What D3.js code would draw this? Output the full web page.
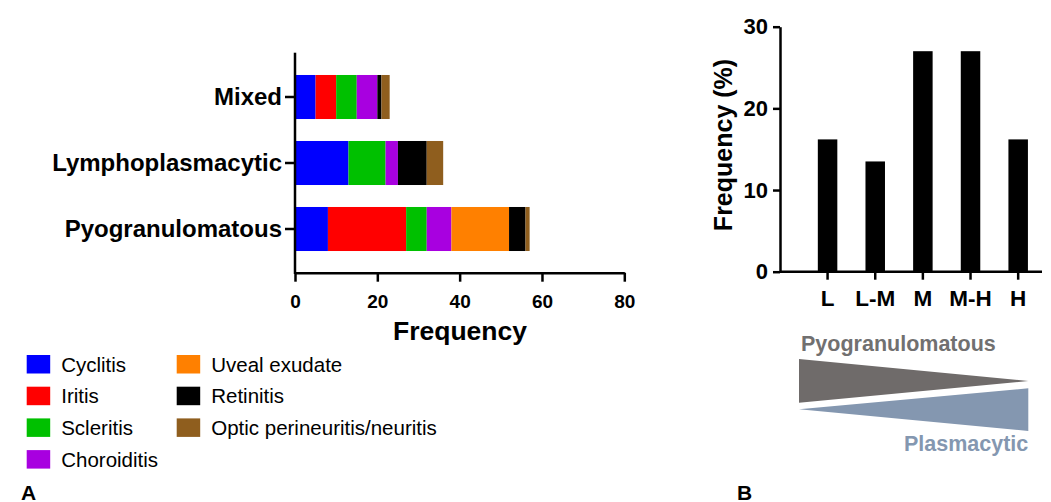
<!DOCTYPE html>
<html>
<head>
<meta charset="utf-8">
<script src="https://cdn.jsdelivr.net/npm/d3@7"></script>
<style>
  body { margin: 0; background: #fff; }
  svg { font-family: "Liberation Sans", Arial, sans-serif; }
</style>
</head>
<body>
<svg id="chart" width="1051" height="502"></svg>
<script>
// panel A data: stacked counts per inflammation pattern
var groups = ["Mixed", "Lymphoplasmacytic", "Pyogranulomatous"];
var lesions = ["Cyclitis", "Iritis", "Scleritis", "Choroiditis", "Uveal exudate", "Retinitis", "Optic perineuritis/neuritis"];
var lesionColors = ["#0000ff", "#ff0000", "#00c000", "#a800e0", "#ff8000", "#000000", "#8f5e1e"];
// one array per lesion, values in order of groups
var cyclitis    = [5, 13, 8];
var iritis      = [5, 0, 19];
var scleritis   = [5, 9, 5];
var choroiditis = [5, 3, 6];
var uveal       = [0, 0, 14];
var retinitis   = [1, 7, 4];
var optic       = [2, 4, 1];
var xTicksA = [0, 20, 40, 60, 80];

// panel B data
var grades = ["L", "L-M", "M", "M-H", "H"];
var gradeFreq = [16.2, 13.5, 27.0, 27.0, 16.2];
var yTicksB = [0, 10, 20, 30];

var svg = d3.select("#chart");

// ---------- panel A ----------
var lesionValues = [cyclitis, iritis, scleritis, choroiditis, uveal, retinitis, optic];
var rows = groups.map(function (g, i) {
    var r = {group: g};
    for (var k = 0; k < lesions.length; k++) {
        r[lesions[k]] = lesionValues[k][i];
    }
    return r;
});
var stacked = d3.stack().keys(lesions)(rows);

var xA = d3.scaleLinear().domain([0, 80]).range([295, 624.3]);
var yA = d3.scaleBand().domain(groups).range([64, 262]).paddingInner(0.333).paddingOuter(0.1665);

var gA = svg.append("g");
gA.selectAll("g.layer")
  .data(stacked)
  .enter().append("g")
    .attr("class", "layer")
    .attr("fill", function (d, i) { return lesionColors[i]; })
  .selectAll("rect")
  .data(function (d) { return d; })
  .enter().append("rect")
    .attr("x", function (d) { return xA(d[0]); })
    .attr("width", function (d) { return xA(d[1]) - xA(d[0]); })
    .attr("y", function (d) { return yA(d.data.group); })
    .attr("height", yA.bandwidth());

var yAxisA = gA.append("g")
    .attr("transform", "translate(295,0)")
    .call(d3.axisLeft(yA).tickSize(10).tickPadding(3));
yAxisA.select(".domain").remove();
yAxisA.selectAll("line").attr("stroke-width", 2.5);
yAxisA.selectAll("text").attr("font-size", 24).attr("font-weight", "bold")
      .attr("font-family", "Liberation Sans, Arial, sans-serif").attr("fill", "#000");
gA.append("line").attr("x1", 295).attr("x2", 295).attr("y1", 52.7).attr("y2", 274)
  .attr("stroke", "#000").attr("stroke-width", 2.5);

var xAxisA = gA.append("g")
    .attr("transform", "translate(0,272.7)")
    .call(d3.axisBottom(xA).tickValues(xTicksA).tickSize(9).tickPadding(12.5).tickSizeOuter(0));
xAxisA.select(".domain").attr("stroke-width", 2.5);
xAxisA.selectAll("line").attr("stroke-width", 2.5);
xAxisA.selectAll("text").attr("font-size", 19).attr("font-weight", "bold")
      .attr("font-family", "Liberation Sans, Arial, sans-serif").attr("fill", "#000");

gA.append("text").attr("x", 460).attr("y", 340).attr("text-anchor", "middle")
  .attr("font-size", 26.5).attr("font-weight", "bold").text("Frequency");

// legend, two columns
var legend = svg.append("g");
var item = legend.selectAll("g.item")
  .data(lesions)
  .enter().append("g")
    .attr("class", "item")
    .attr("transform", function (d, i) {
        var col = i < 4 ? 0 : 1;
        var row = i < 4 ? i : i - 4;
        return "translate(" + (col === 0 ? 26.7 : 176.7) + "," + (355 + row * 31.7) + ")";
    });
item.append("rect").attr("width", 23.5).attr("height", 18.5)
    .attr("fill", function (d, i) { return lesionColors[i]; });
item.append("text").attr("x", 34.5).attr("y", 16.5).attr("font-size", 20.5)
    .text(function (d) { return d; });

svg.append("text").attr("x", 21).attr("y", 499.5).attr("font-size", 21).attr("font-weight", "bold").text("A");

// ---------- panel B ----------
var xB = d3.scaleBand().domain(grades).range([803.75, 1042]);
var yB = d3.scaleLinear().domain([0, 30]).range([271.7, 26.7]);
var barW = 19.5;

var gB = svg.append("g");
gB.selectAll("rect.bar")
  .data(gradeFreq)
  .enter().append("rect")
    .attr("class", "bar")
    .attr("x", function (d, i) { return xB(grades[i]) + xB.bandwidth() / 2 - barW / 2; })
    .attr("width", barW)
    .attr("y", function (d) { return yB(d); })
    .attr("height", function (d) { return yB(0) - yB(d); })
    .attr("fill", "#000");

var yAxisB = gB.append("g")
    .attr("transform", "translate(780,0)")
    .call(d3.axisLeft(yB).tickValues(yTicksB).tickSize(7).tickPadding(5).tickSizeOuter(0));
yAxisB.select(".domain").attr("stroke-width", 2.5);
yAxisB.selectAll("line").attr("stroke-width", 2.5);
yAxisB.selectAll("text").attr("font-size", 22).attr("font-weight", "bold")
      .attr("font-family", "Liberation Sans, Arial, sans-serif").attr("fill", "#000");

var xAxisB = gB.append("g")
    .attr("transform", "translate(0,271.7)")
    .call(d3.axisBottom(xB).tickSize(8).tickPadding(10.5).tickSizeOuter(0));
xAxisB.select(".domain").attr("d", "M780,0H1042").attr("stroke-width", 2.5);
xAxisB.selectAll("line").attr("stroke-width", 2.5);
xAxisB.selectAll("text").attr("font-size", 22.5).attr("font-weight", "bold")
      .attr("font-family", "Liberation Sans, Arial, sans-serif").attr("fill", "#000");

gB.append("text").attr("transform", "translate(732,145) rotate(-90)")
  .attr("text-anchor", "middle").attr("font-size", 25).attr("font-weight", "bold")
  .text("Frequency (%)");

// gradient wedges under panel B
gB.append("text").attr("x", 801).attr("y", 350.5).attr("font-size", 21.5).attr("font-weight", "bold")
  .attr("fill", "#717070").text("Pyogranulomatous");
gB.append("path").attr("d", d3.line()([[799, 359], [799, 402.7], [1028.3, 381]]) + "Z").attr("fill", "#6f6b6a");
gB.append("path").attr("d", d3.line()([[799, 409.3], [1028.3, 388.3], [1028.3, 431]]) + "Z").attr("fill", "#8497b0");
gB.append("text").attr("x", 1028.3).attr("y", 451).attr("text-anchor", "end").attr("font-size", 21.5)
  .attr("font-weight", "bold").attr("fill", "#8497b0").text("Plasmacytic");

svg.append("text").attr("x", 737).attr("y", 499.5).attr("font-size", 21).attr("font-weight", "bold").text("B");
</script>
</body>
</html>
